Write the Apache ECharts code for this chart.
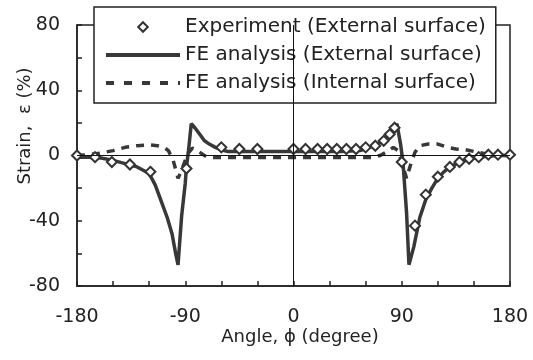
<!DOCTYPE html>
<html>
<head>
<meta charset="utf-8">
<script src="https://cdn.jsdelivr.net/npm/echarts@6/dist/echarts.min.js"></script>
<style>
  html, body { margin: 0; padding: 0; background: #fff; }
  #chart { width: 533px; height: 360px; }
</style>
</head>
<body>
<div id="chart"></div>
<script>
// Experiment (External surface)
const expAngle  = [-180, -165, -151, -136, -119, -89, -60, -45, -30, 0, 10, 20, 28, 36, 44, 52, 60, 68, 75, 80, 84, 90, 101, 110, 120, 130, 138, 146, 154, 162, 170, 180];
const expStrain = [0, -1, -4, -5.5, -10, -8, 5, 4, 4, 4, 4, 4, 4, 4, 4, 4, 5, 6, 9, 13, 17, -4, -43, -24, -13, -7, -4, -2, -1, 0.5, 0.5, 0.5];

// FE analysis (External surface)
const feExtAngle  = [-180, -170, -160, -150, -140, -130, -120, -115, -110, -105, -101, -98, -96, -93, -90, -89, -87, -85, -82, -78, -74, -70, -65, -60, -55, -40, 0, 40, 55, 60, 65, 70, 75, 80, 86, 89, 91, 94, 96, 100, 105, 110, 115, 120, 125, 130, 140, 150, 160, 170, 180];
const feExtStrain = [-1, -1, -1.5, -3, -5, -7, -11, -18, -28, -38, -48, -60, -67, -37, -17, -7, 5, 19.5, 17, 13, 9, 7, 5, 3.5, 2.5, 2.5, 2.5, 2.5, 3, 4, 5.5, 7, 9.5, 13, 19.5, 7, -4, -35, -67, -56, -38, -27, -20, -14, -10, -7, -3.5, -1.5, -0.5, 0, 0];

// FE analysis (Internal surface)
const feIntAngle  = [-180, -170, -160, -150, -145, -140, -130, -120, -113, -108, -104, -100, -96, -93, -90, -87, -84, -80, -76, -72, -65, 0, 65, 72, 78, 83, 87, 90, 94, 98, 101, 105, 112, 120, 128, 135, 143, 150, 160, 170, 180];
const feIntStrain = [0, 0.5, 1.5, 3, 4, 5, 6, 6.5, 6, 5, 3, -3, -14, -9, -3, 2, 4.5, 3, 1, -1, -1.3, -1.3, -1.3, 0, 2.5, 5, 3, -4, -14, -4, 2, 6, 7, 7, 5, 4, 3.5, 2.5, 1, 0.3, 0];

const xTicks = [-180, -90, 0, 90, 180];
const yTicks = [-80, -40, 0, 40, 80];

function pairs(xs, ys) {
  return xs.map(function (x, i) { return [x, ys[i]] });
}

const FONT = 'DejaVu Sans';
const INK = '#222';
const LINE = '#383838';

const chart = echarts.init(document.getElementById('chart'), null, {renderer: 'canvas'});
chart.setOption({
  animation: false,
  backgroundColor: '#fff',
  textStyle: {fontFamily: FONT, color: INK},
  grid: {
    left: 77, right: 23, top: 25, bottom: 74,
    containLabel: false,
    show: true,
    borderColor: INK,
    borderWidth: 1.5,
    backgroundColor: 'transparent'
  },
  legend: {
    orient: 'vertical',
    left: 94,
    top: 7,
    padding: [10, 10, 10, 10],
    itemWidth: 74,
    itemHeight: 12,
    itemGap: 8,
    backgroundColor: '#fff',
    borderColor: INK,
    borderWidth: 1.5,
    borderRadius: 0,
    selectedMode: false,
    textStyle: {fontFamily: FONT, fontSize: 20, color: INK},
    data: [
      {name: 'Experiment (External surface)'},
      {name: 'FE analysis (External surface)', itemStyle: {opacity: 0}, lineStyle: {width: 4}},
      {name: 'FE analysis (Internal surface)', itemStyle: {opacity: 0}, lineStyle: {width: 4, type: [8, 10]}}
    ]
  },
  xAxis: {
    type: 'value',
    min: -180,
    max: 180,
    interval: 30,
    name: 'Angle, ϕ (degree)',
    nameLocation: 'middle',
    nameGap: 42,
    nameMoveOverlap: false,
    nameTextStyle: {fontFamily: FONT, fontSize: 18, color: INK, padding: [0, 0, 0, 13]},
    axisLine: {show: true, onZero: false, lineStyle: {color: INK, width: 1.5}},
    axisTick: {show: true, inside: true, length: 5, lineStyle: {color: INK, width: 1.5}},
    axisLabel: {
      margin: 22,
      fontFamily: FONT,
      fontSize: 19,
      color: INK,
      formatter: function (v) { return xTicks.indexOf(v) >= 0 ? String(v) : '' }
    },
    splitLine: {show: false}
  },
  yAxis: {
    type: 'value',
    min: -80,
    max: 80,
    interval: 20,
    name: 'Strain,  ε (%)',
    nameLocation: 'middle',
    nameGap: 43,
    nameMoveOverlap: false,
    nameTextStyle: {fontFamily: FONT, fontSize: 18, color: INK, padding: [0, 0, 0, 59]},
    axisLine: {show: true, onZero: false, lineStyle: {color: INK, width: 1.5}},
    axisTick: {show: true, inside: true, length: 5, lineStyle: {color: INK, width: 1.5}},
    axisLabel: {
      margin: 17,
      fontFamily: FONT,
      fontSize: 19,
      color: INK,
      formatter: function (v) { return yTicks.indexOf(v) >= 0 ? String(v) : '' }
    },
    splitLine: {show: false}
  },
  series: [
    {
      name: 'FE analysis (Internal surface)',
      type: 'line',
      data: pairs(feIntAngle, feIntStrain),
      symbol: 'none',
      lineStyle: {color: LINE, width: 3.5, type: [8, 7]},
      itemStyle: {color: LINE},
      z: 2,
      markLine: {
        silent: true,
        symbol: 'none',
        label: {show: false},
        lineStyle: {color: '#111', width: 1, type: 'solid'},
        data: [{yAxis: 0}, {xAxis: 0}]
      }
    },
    {
      name: 'FE analysis (External surface)',
      type: 'line',
      data: pairs(feExtAngle, feExtStrain),
      symbol: 'none',
      lineStyle: {color: LINE, width: 3.5},
      itemStyle: {color: LINE},
      z: 3
    },
    {
      name: 'Experiment (External surface)',
      type: 'line',
      data: pairs(expAngle, expStrain),
      symbol: 'emptyDiamond',
      symbolSize: 10,
      showAllSymbol: true,
      lineStyle: {width: 0, opacity: 0},
      itemStyle: {color: '#333', borderWidth: 1.5},
      z: 4
    }
  ]
});
</script>
</body>
</html>
